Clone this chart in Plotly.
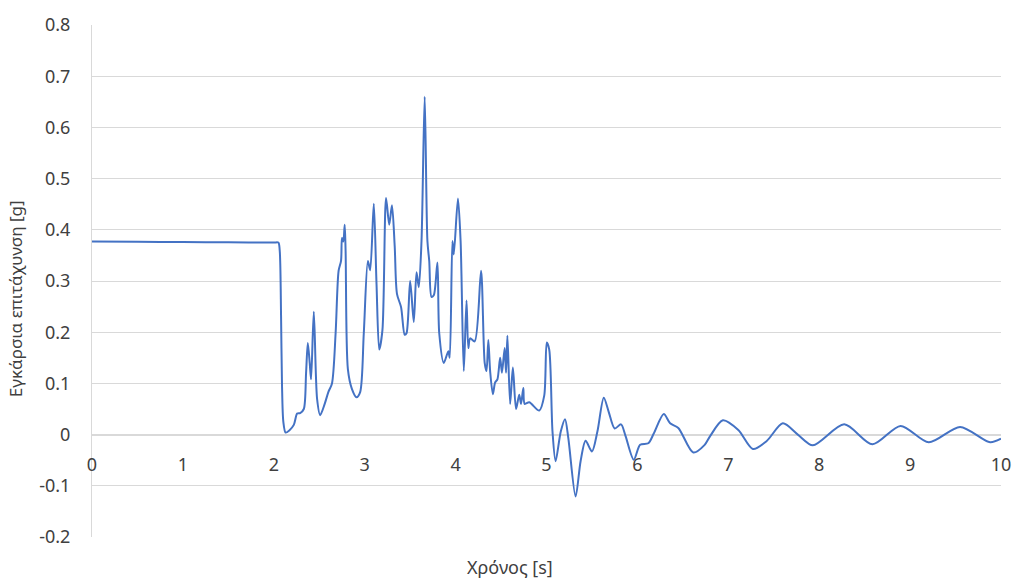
import plotly.graph_objects as go

# Time samples [s] and transverse acceleration [g]
time_s = [
    0.00, 0.50, 1.00, 1.50, 2.00, 2.05, 2.065, 2.08, 2.09, 2.105, 2.13, 2.17,
    2.22, 2.257, 2.29, 2.33, 2.355, 2.374, 2.395, 2.41, 2.44, 2.476, 2.51,
    2.56, 2.60, 2.64, 2.68, 2.713, 2.74, 2.75, 2.765, 2.78, 2.79, 2.815,
    2.86, 2.91, 2.95, 2.99, 3.035, 3.06, 3.10, 3.13, 3.16, 3.195, 3.235,
    3.27, 3.30, 3.33, 3.355, 3.40, 3.44, 3.46, 3.50, 3.54, 3.57, 3.595,
    3.625, 3.66, 3.69, 3.71, 3.735, 3.76, 3.80, 3.82, 3.87, 3.92, 3.935,
    3.965, 3.98, 4.026, 4.055, 4.09, 4.12, 4.14, 4.16, 4.21, 4.28, 4.32,
    4.34, 4.36, 4.38, 4.41, 4.435, 4.46, 4.49, 4.51, 4.54, 4.555, 4.57,
    4.60, 4.63, 4.665, 4.70, 4.72, 4.745, 4.76, 4.81, 4.92, 4.975, 5.003,
    5.03, 5.066, 5.10, 5.157, 5.204, 5.24, 5.32, 5.375, 5.43, 5.50, 5.56,
    5.63, 5.685, 5.75, 5.82, 5.87, 5.96, 6.03, 6.12, 6.18, 6.29, 6.36,
    6.45, 6.615, 6.74, 6.80, 6.94, 7.11, 7.27, 7.42, 7.60, 7.765, 7.93,
    8.275, 8.585, 8.895, 9.205, 9.55, 9.88, 10.0,
]
accel_g = [
    0.377, 0.3765, 0.376, 0.3755, 0.375, 0.375, 0.36, 0.23, 0.10, 0.025, 0.004, 0.008,
    0.019, 0.041, 0.042, 0.05, 0.12, 0.179, 0.14, 0.108, 0.24, 0.07, 0.038,
    0.06, 0.083, 0.10, 0.198, 0.32, 0.34, 0.384, 0.377, 0.41, 0.358, 0.128,
    0.089, 0.073, 0.083, 0.198, 0.339, 0.321, 0.451, 0.294, 0.166, 0.204, 0.462,
    0.41, 0.448, 0.368, 0.275, 0.249, 0.195, 0.198, 0.30, 0.22, 0.317, 0.288,
    0.378, 0.66, 0.378, 0.339, 0.269, 0.272, 0.336, 0.198, 0.14, 0.163, 0.15,
    0.378, 0.352, 0.461, 0.378, 0.124, 0.262, 0.169, 0.188, 0.182, 0.32, 0.14,
    0.124, 0.185, 0.124, 0.079, 0.102, 0.108, 0.15, 0.121, 0.169, 0.121, 0.193,
    0.06, 0.131, 0.05, 0.078, 0.06, 0.091, 0.06, 0.063, 0.047, 0.076, 0.18,
    0.166, 0.006, -0.052, 0.006, 0.03, -0.007, -0.121, -0.052, -0.012, -0.033, 0.006,
    0.072, 0.044, 0.012, 0.02, -0.003, -0.049, -0.02, -0.017, 0.002, 0.04, 0.022,
    0.013, -0.035, -0.02, -0.003, 0.028, 0.009, -0.028, -0.013, 0.022, 0.0, -0.021,
    0.02, -0.019, 0.017, -0.015, 0.015, -0.015, -0.008,
]

x_ticks = [0, 1, 2, 3, 4, 5, 6, 7, 8, 9, 10]
y_ticks = [-0.2, -0.1, 0, 0.1, 0.2, 0.3, 0.4, 0.5, 0.6, 0.7, 0.8]
y_tick_text = ["-0.2", "-0.1", "0", "0.1", "0.2", "0.3", "0.4", "0.5", "0.6", "0.7", "0.8"]

FONT = "Noto Sans"
TXT = "#404040"
GRID = "#d9d9d9"

fig = go.Figure()
fig.add_trace(go.Scatter(
    x=time_s, y=accel_g, mode="lines",
    line=dict(color="#4472C4", width=2, shape="spline", smoothing=0.8),
    hoverinfo="x+y", showlegend=False,
))

y_min, y_max = -0.2, 0.8

fig.update_layout(
    width=1023, height=578,
    margin=dict(l=92, r=17, t=19, b=41),
    paper_bgcolor="white", plot_bgcolor="white",
    font=dict(family=FONT, size=18, color=TXT),
    xaxis=dict(
        range=[0, 10], tickvals=x_ticks, showgrid=False, zeroline=False,
        anchor="free", position=(0 - y_min) / (y_max - y_min),
        showline=True, linecolor=GRID, linewidth=1, layer="below traces",
        ticks="", ticklabelstandoff=14,
        tickfont=dict(family=FONT, size=18, color=TXT),
    ),
    yaxis=dict(
        range=[y_min, y_max], tickvals=y_ticks, ticktext=y_tick_text,
        showgrid=True, gridcolor=GRID, gridwidth=1, zeroline=False,
        showline=True, linecolor=GRID, linewidth=1, layer="below traces",
        ticks="", ticklabelstandoff=17,
        tickfont=dict(family=FONT, size=18, color=TXT),
    ),
    annotations=[
        dict(text="Εγκάρσια επιτάχυνση [g]", xref="paper", yref="paper",
             x=(15 - 92) / 914, y=(537 - 296) / 518,
             xanchor="center", yanchor="middle",
             textangle=-90, showarrow=False,
             font=dict(family=FONT, size=17, color=TXT)),
        dict(text="Χρόνος [s]", xref="paper", yref="paper",
             x=(512 - 92) / 914, y=(537 - 567) / 518,
             xanchor="center", yanchor="middle",
             showarrow=False, font=dict(family=FONT, size=18, color=TXT)),
    ],
)

fig.write_html("out.html")
